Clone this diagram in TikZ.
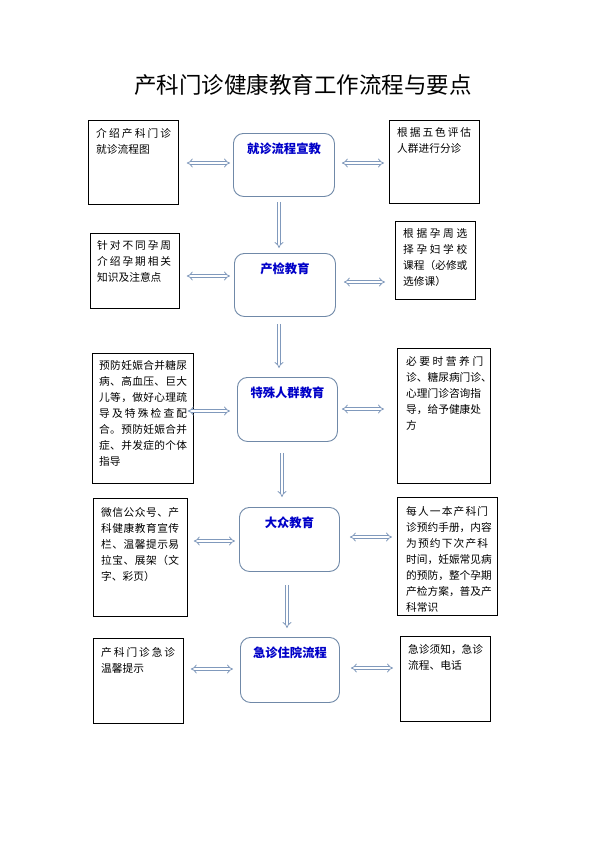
\documentclass[tikz,border=0pt]{standalone}
\usepackage{fontspec}
\setmainfont{Noto Sans CJK SC}
\usetikzlibrary{arrows.meta,calc}
\definecolor{arrowc}{RGB}{128,153,188}
\definecolor{rbord}{RGB}{112,137,168}
\definecolor{ctext}{RGB}{0,0,200}
\makeatletter
\def\jl@a#1{#1\jl@b}
\def\jl@b#1{\ifx\relax#1\else\hfill#1\expandafter\jl@b\fi}
\newcommand\jline[2]{\leavevmode\hbox to #1pt{\jl@a#2\relax}}
\makeatother
\tikzset{
  sbox/.style={draw=black, line width=0.8pt, inner sep=0pt, anchor=north west},
  cbox/.style={draw=rbord, line width=0.9pt, rounded corners=10pt, inner sep=0pt, anchor=north west},
  btxt/.style={anchor=north west, inner sep=0pt, align=left, text width=100pt, font=\fontsize{10.7}{16}\selectfont},
  ctxt/.style={anchor=center, inner sep=0pt, text=ctext, font=\fontsize{12.3}{14}\selectfont\bfseries},
  dar/.style={draw=arrowc, line width=0.8pt, double=white, double distance=2.2pt, {Implies}-{Implies}},
  sar/.style={draw=arrowc, line width=0.8pt, double=white, double distance=2.2pt, -{Implies}}
}
\begin{document}
\begin{tikzpicture}[x=1pt,y=-1pt]
\useasboundingbox[fill=white] (0,0) rectangle (604,857);
\node[inner sep=0pt, font=\fontsize{22.5}{24}\selectfont] (title) at (303,85) {产科门诊健康教育工作流程与要点};

% boxes
\node[sbox, minimum width=90pt, minimum height=84pt] (L1) at (88,120) {};
\node[cbox, minimum width=101pt, minimum height=63pt] (C1) at (233,133) {};
\node[sbox, minimum width=90pt, minimum height=83pt] (R1) at (389,120) {};

\node[sbox, minimum width=89pt, minimum height=75pt] (L2) at (90,233) {};
\node[cbox, minimum width=101pt, minimum height=63pt] (C2) at (234,253) {};
\node[sbox, minimum width=80pt, minimum height=78pt] (R2) at (395,221) {};

\node[sbox, minimum width=101pt, minimum height=130pt] (L3) at (92,353) {};
\node[cbox, minimum width=100pt, minimum height=64pt] (C3) at (237,377) {};
\node[sbox, minimum width=93pt, minimum height=135pt] (R3) at (397,348) {};

\node[sbox, minimum width=94pt, minimum height=118pt] (L4) at (93,498) {};
\node[cbox, minimum width=100pt, minimum height=64pt] (C4) at (239,507) {};
\node[sbox, minimum width=100pt, minimum height=118pt] (R4) at (397,497) {};

\node[sbox, minimum width=90pt, minimum height=85pt] (L5) at (93,638) {};
\node[cbox, minimum width=99pt, minimum height=65pt] (C5) at (240,637) {};
\node[sbox, minimum width=90pt, minimum height=85pt] (R5) at (400,636) {};

% centre texts
\node[ctxt] (C1t) at ($(C1.north)+(0,16)$) {就诊流程宣教};
\node[ctxt] (C2t) at ($(C2.north)+(0,16)$) {产检教育};
\node[ctxt] (C3t) at ($(C3.north)+(0,16)$) {特殊人群教育};
\node[ctxt] (C4t) at ($(C4.north)+(0,16)$) {大众教育};
\node[ctxt] (C5t) at ($(C5.north)+(0,16)$) {急诊住院流程};

% side texts
\node[btxt] (L1t) at ($(L1.north west)+(8,8)$) {\jline{75}{介绍产科门诊}\\就诊流程图};
\node[btxt] (R1t) at ($(R1.north west)+(8,7)$) {\jline{74}{根据五色评估}\\人群进行分诊};
\node[btxt] (L2t) at ($(L2.north west)+(7,7)$) {\jline{74}{针对不同孕周}\\\jline{74}{介绍孕期相关}\\知识及注意点};
\node[btxt] (R2t) at ($(R2.north west)+(8,7)$) {\jline{64}{根据孕周选}\\\jline{64}{择孕妇学校}\\课程（必修或\\选修课）};
\node[btxt] (L3t) at ($(L3.north west)+(7,7)$) {\jline{88}{预防妊娠合并糖尿}\\\jline{88}{病、高血压、巨大}\\\jline{88}{儿等，做好心理疏}\\\jline{88}{导及特殊检查配}\\\jline{88}{合。预防妊娠合并}\\\jline{88}{症、并发症的个体}\\指导};
\node[btxt] (R3t) at ($(R3.north west)+(9,8)$) {\jline{77}{必要时营养门}\\诊、糖尿病门诊、\\心理门诊咨询指\\导，给予健康处\\方};
\node[btxt] (L4t) at ($(L4.north west)+(8,9)$) {\jline{78}{微信公众号、产}\\\jline{78}{科健康教育宣传}\\\jline{78}{栏、温馨提示易}\\\jline{78}{拉宝、展架（文}\\字、彩页）};
\node[btxt] (R4t) at ($(R4.north west)+(9,9)$) {\jline{82}{每人一本产科门}\\诊预约手册，内容\\\jline{82}{为预约下次产科}\\时间，妊娠常见病\\的预防，整个孕期\\产检方案，普及产\\科常识};
\node[btxt] (L5t) at ($(L5.north west)+(8,9)$) {\jline{74}{产科门诊急诊}\\温馨提示};
\node[btxt] (R5t) at ($(R5.north west)+(8,8)$) {急诊须知，急诊\\流程、电话};

% row levels and column x
\coordinate (y1l) at (0,163); \coordinate (y1r) at (0,163);
\coordinate (y2l) at (0,276); \coordinate (y2r) at (0,282);
\coordinate (y3l) at (0,411); \coordinate (y3r) at (0,409);
\coordinate (y4l) at (0,541); \coordinate (y4r) at (0,537);
\coordinate (y5l) at (0,669); \coordinate (y5r) at (0,668);
\coordinate (k1) at (279,0); \coordinate (k2) at (279,0);
\coordinate (k3) at (282,0); \coordinate (k4) at (287,0);

% horizontal double arrows
\draw[dar] ($(L1.east |- y1l)+(8,0)$) -- ($(C1.west |- y1l)+(-3,0)$);
\draw[dar] ($(C1.east |- y1r)+(7,0)$) -- ($(R1.west |- y1r)+(-5,0)$);
\draw[dar] ($(L2.east |- y2l)+(7,0)$) -- ($(C2.west |- y2l)+(-4,0)$);
\draw[dar] ($(C2.east |- y2r)+(8,0)$) -- ($(R2.west |- y2r)+(-10,0)$);
\draw[dar] ($(L3.east |- y3l)+(-6,0)$) -- ($(C3.west |- y3l)+(-7,0)$);
\draw[dar] ($(C3.east |- y3r)+(4,0)$) -- ($(R3.west |- y3r)+(-13,0)$);
\draw[dar] ($(L4.east |- y4l)+(6,0)$) -- ($(C4.west |- y4l)+(-4,0)$);
\draw[dar] ($(C4.east |- y4r)+(10,0)$) -- ($(R4.west |- y4r)+(-5,0)$);
\draw[dar] ($(L5.east |- y5l)+(7,0)$) -- ($(C5.west |- y5l)+(-7,0)$);
\draw[dar] ($(C5.east |- y5r)+(11,0)$) -- ($(R5.west |- y5r)+(-7,0)$);

% vertical arrows
\draw[sar] ($(k1 |- C1.south)+(0,5)$) -- ($(k1 |- C2.north)+(0,-5)$);
\draw[sar] ($(k2 |- C2.south)+(0,7)$) -- ($(k2 |- C3.north)+(0,-9)$);
\draw[sar] ($(k3 |- C3.south)+(0,11)$) -- ($(k3 |- C4.north)+(0,-10)$);
\draw[sar] ($(k4 |- C4.south)+(0,13)$) -- ($(k4 |- C5.north)+(0,-9)$);
\end{tikzpicture}
\end{document}
